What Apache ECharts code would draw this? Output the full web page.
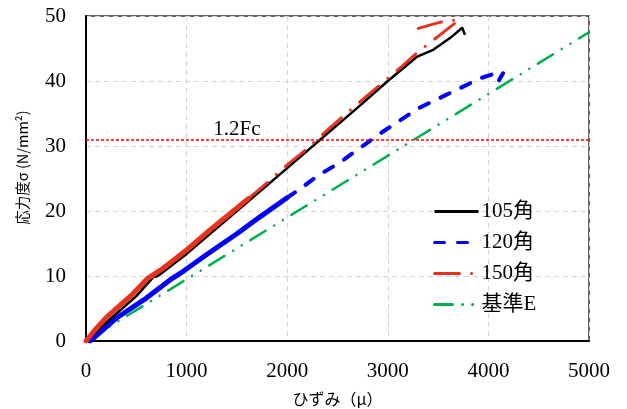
<!DOCTYPE html>
<html>
<head>
<meta charset="utf-8">
<script src="https://cdn.jsdelivr.net/npm/echarts@6/dist/echarts.min.js"></script>
<style>
html,body{margin:0;padding:0;background:#fff;}
#chart{width:627px;height:409px;}
</style>
</head>
<body>
<div id="chart"></div>
<script>
// ---- data ----
const xTicks = [0, 1000, 2000, 3000, 4000, 5000];
const yTicks = [0, 10, 20, 30, 40, 50];
const seriesNames = ['105角', '120角', '150角', '基準E'];

const strain105 = [0, 250, 500, 702, 690, 730, 1000, 1500, 2000, 2330, 2700, 3000, 3117, 3287, 3452, 3618, 3711, 3740, 3767];
const stress105 = [0, 3.5, 6.9, 10.4, 9.8, 10.2, 13.4, 20.0, 26.6, 31.0, 35.9, 40.0, 41.5, 43.7, 44.8, 46.6, 47.8, 48.2, 47.1];

const strain120 = [40, 300, 600, 835, 974, 1200, 1500, 1730, 1995, 2110, 2309, 2508, 2922, 3303, 3718, 3916, 4033, 4150, 4105];
const stress120 = [0, 3.5, 6.6, 9.4, 10.8, 13.3, 16.5, 19.1, 22.0, 23.2, 25.5, 27.3, 31.9, 35.8, 38.9, 40.4, 41.0, 41.3, 40.1];

const strain150 = [0, 100, 200, 345, 450, 609, 625, 740, 1000, 1233, 1400, 1613, 1812, 1961, 2160, 2425, 2700, 2922, 3121, 3303, 3519, 3711, 3600, 3486, 3303];
const stress150 = [0, 1.9, 3.6, 5.6, 7.0, 9.6, 9.5, 10.9, 14.0, 17.1, 19.2, 21.9, 24.5, 26.6, 29.1, 32.8, 36.5, 39.4, 42.0, 44.5, 47.1, 49.4, 49.3, 48.9, 48.1];

const strainE = [0, 5000];
const stressE = [0, 47.5];

const fcLevel = 31;
const fcLabel = '1.2Fc';
const fcLabelStrain = 1500;

const xName = 'ひずみ（μ）';
const yName = '応力度σ (N/mm²)';

// dense (noisy) parts of measured curves end at these indices
const split120 = 8;   // up to strain 1995
const split150 = 11;  // up to strain 1613

function pairs(xs, ys, from, to) {
  const out = [];
  const end = (to === undefined) ? xs.length : to;
  for (let i = from; i < end; i++) out.push([xs[i], ys[i]]);
  return out;
}

const serif = "'Liberation Serif','Times New Roman','Noto Sans CJK JP',serif";
const sans = "'Noto Sans CJK JP','Noto Sans',sans-serif";

const chart = echarts.init(document.getElementById('chart'));
chart.setOption({
  animation: false,
  backgroundColor: '#fff',
  grid: {
    left: 86, right: 38, top: 16, bottom: 68,
    outerBoundsMode: 'none', containLabel: false,
    show: true, borderColor: '#333', borderWidth: 1.5, backgroundColor: 'transparent'
  },
  xAxis: {
    type: 'value', min: xTicks[0], max: xTicks[xTicks.length - 1], interval: xTicks[1] - xTicks[0],
    name: xName, nameLocation: 'middle', nameGap: 50,
    nameTextStyle: { fontFamily: sans, fontSize: 16, color: '#000' },
    axisLine: { show: true, onZero: false, lineStyle: { color: '#000', width: 2 } },
    axisTick: { show: false },
    axisLabel: { fontFamily: serif, fontSize: 21, color: '#000', margin: 20, formatter: v => String(v) },
    splitLine: { show: true, lineStyle: { color: '#d4d4d4', type: [5, 4], width: 1 } }
  },
  yAxis: {
    type: 'value', min: yTicks[0], max: yTicks[yTicks.length - 1], interval: yTicks[1] - yTicks[0],
    name: yName, nameLocation: 'middle', nameGap: 56, nameRotate: 90,
    nameTextStyle: { fontFamily: sans, fontSize: 14.5, color: '#000', padding: [0, 0, 0, 22] },
    axisLine: { show: true, onZero: false, lineStyle: { color: '#000', width: 2 } },
    axisTick: { show: false },
    axisLabel: { fontFamily: serif, fontSize: 21, color: '#000', margin: 20, formatter: v => String(v) },
    splitLine: { show: true, lineStyle: { color: '#d4d4d4', type: [5, 4], width: 1 } }
  },
  legend: {
    data: seriesNames,
    orient: 'vertical',
    left: 433, top: 201,
    padding: 0,
    itemWidth: 44, itemHeight: 20, itemGap: 10,
    textStyle: { fontFamily: serif, fontSize: 21, color: '#000', padding: [0, 0, 0, -2] },
    itemStyle: { opacity: 0, borderWidth: 0 },
    lineStyle: { width: 3 }
  },
  series: [
    {
      name: seriesNames[3], type: 'line', showSymbol: false, symbol: 'none',
      data: pairs(strainE, stressE, 0),
      lineStyle: { color: '#00b050', width: 2.5, type: [18, 10, 0.1, 10, 0.1, 10], cap: 'round' },
      itemStyle: { color: '#00b050' },
      z: 2
    },
    {
      name: '120low', type: 'line', showSymbol: false, symbol: 'none',
      data: pairs(strain120, stress120, 0, split120 + 1),
      lineStyle: { color: '#0000ff', width: 5, type: 'solid', cap: 'round' },
      z: 3
    },
    {
      name: seriesNames[1], type: 'line', showSymbol: false, symbol: 'none',
      data: pairs(strain120, stress120, split120),
      lineStyle: { color: '#0000ff', width: 4, type: [10, 13], cap: 'round' },
      itemStyle: { color: '#0000ff' },
      z: 3
    },
    {
      name: seriesNames[0], type: 'line', showSymbol: false, symbol: 'none',
      data: pairs(strain105, stress105, 0),
      lineStyle: { color: '#000000', width: 2.5, type: 'solid' },
      itemStyle: { color: '#000' },
      z: 4
    },
    {
      name: '150low', type: 'line', showSymbol: false, symbol: 'none',
      data: pairs(strain150, stress150, 0, split150 + 1),
      lineStyle: { color: '#e8321e', width: 5, type: 'solid', cap: 'round' },
      z: 5
    },
    {
      name: seriesNames[2], type: 'line', showSymbol: false, symbol: 'none',
      data: pairs(strain150, stress150, split150),
      lineStyle: { color: '#e8321e', width: 3, type: [25, 12, 0.1, 12], cap: 'round' },
      itemStyle: { color: '#e8321e' },
      z: 5
    },
    {
      name: 'fc', type: 'line', data: [],
      markLine: {
        silent: true, symbol: ['none', 'none'],
        lineStyle: { color: '#ff0000', width: 1.5, type: [3, 2] },
        label: { show: false },
        data: [{ yAxis: fcLevel }]
      },
      markPoint: {
        silent: true, symbol: 'circle', symbolSize: 1,
        itemStyle: { color: 'rgba(0,0,0,0)' },
        label: { show: true, position: 'top', distance: 3, offset: [0, 4], formatter: fcLabel, fontFamily: serif, fontSize: 21, color: '#000' },
        data: [{ coord: [fcLabelStrain, fcLevel] }]
      },
      z: 6
    }
  ]
});
</script>
</body>
</html>
